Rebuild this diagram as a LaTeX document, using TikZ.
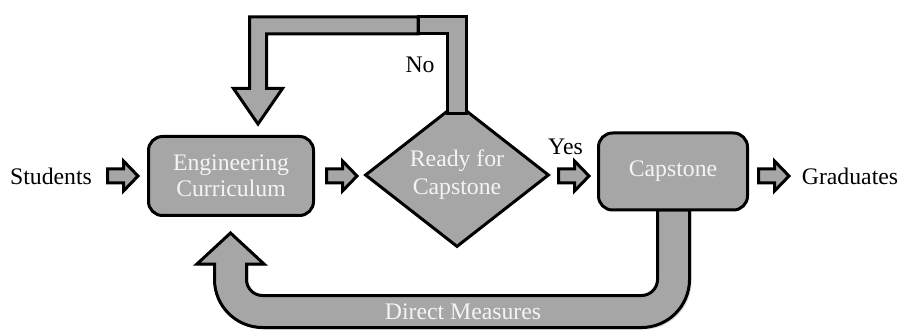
\documentclass[tikz,border=0pt]{standalone}
\usepackage{fontspec}
\setmainfont{Liberation Serif}
\usetikzlibrary{shapes.geometric,shadows}
\definecolor{boxgray}{HTML}{A6A6A6}
\definecolor{txtwhite}{HTML}{F4F4F4}
\begin{document}
\begin{tikzpicture}[x=0.75pt,y=-0.75pt,line join=miter,
  shapeline/.style={draw=black,line width=2.25pt,fill=boxgray},
  lbl/.style={font=\fontsize{17.8}{20}\selectfont,inner sep=0pt,text=black},
  wlbl/.style={font=\fontsize{17.8}{20}\selectfont,inner sep=0pt,text=txtwhite,align=center},
  procbox/.style={shapeline,rectangle,rounded corners=10.5pt,inner sep=0pt,
    font=\fontsize{17.8}{19.5}\selectfont,text=txtwhite,align=center},
  decbox/.style={shapeline,diamond,inner sep=0pt,
    font=\fontsize{17.8}{21}\selectfont,text=txtwhite,align=center},
  blockarr/.pic={\draw[shapeline] (0,-7) -- (16,-7) -- (16,-15) -- (30.5,0)
     -- (16,15) -- (16,7) -- (0,7) -- cycle;}
]
\useasboundingbox (0,0) rectangle (902,331);

% feedback arrow (Direct Measures)
\draw[shapeline,drop shadow={opacity=0.3,shadow xshift=1.5pt,shadow yshift=-1.5pt}]
  (689.5,210) -- (689.5,279.5) arc[start angle=0,end angle=90,radius=48]
  -- (262.5,327.5) arc[start angle=90,end angle=180,radius=48]
  -- (214.5,264) -- (197,264) -- (230.5,233) -- (264,264) -- (246.5,264)
  -- (246.5,279.5) arc[start angle=180,end angle=90,radius=16]
  -- (641.5,295.5) arc[start angle=90,end angle=0,radius=16]
  -- (657.5,210) -- cycle;

% process boxes
\node[procbox,minimum width=165*0.75pt,minimum height=79*0.75pt] (ec) at (231,176)
  {Engineering\\Curriculum};
\node[procbox,minimum width=149*0.75pt,minimum height=77*0.75pt] (cap) at (673,171.5)
  {Capstone};
\node[decbox,minimum width=184*0.75pt,minimum height=142*0.75pt] (rdy) at (457,175)
  {Ready for\\Capstone};

% "No" loop
\draw[shapeline] (418,17) -- (466.5,17) -- (466.5,114) -- (447,114) -- (447,34)
  -- (418,34) -- cycle;
\draw[shapeline] (418,17) -- (249.5,17) -- (249.5,88.5) -- (233.5,88.5) -- (258,124)
  -- (282.5,88.5) -- (266.5,88.5) -- (266.5,34) -- (418,34) -- cycle;

% small block arrows
\pic at (107.5,176) {blockarr};
\pic at (326.5,176) {blockarr};
\pic at (558.5,176) {blockarr};
\pic at (758.5,176) {blockarr};

% labels
\node[lbl] (students) at (51,176) {Students};
\node[lbl] (grad) at (850,176) {Graduates};
\node[lbl] (yes) at (565.5,147) {Yes};
\node[lbl] (no) at (420,65) {No};
\node[wlbl] (dm) at (463,312) {Direct Measures};
\end{tikzpicture}
\end{document}
